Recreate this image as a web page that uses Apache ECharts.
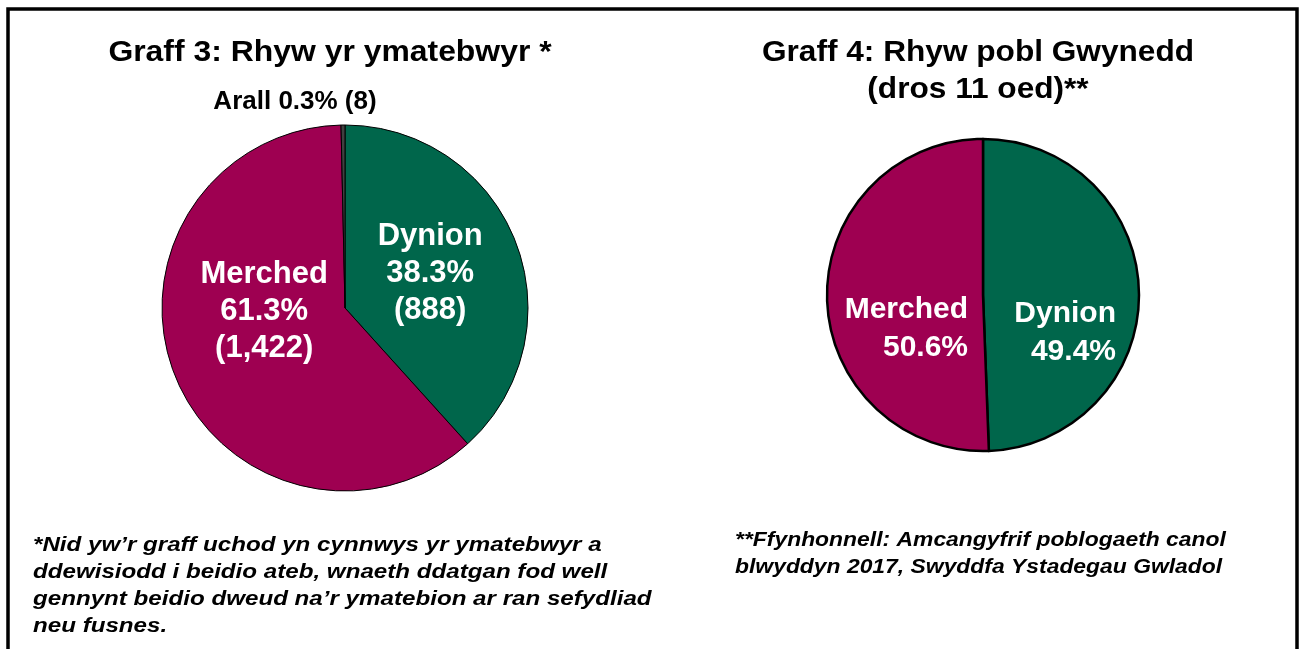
<!DOCTYPE html>
<html>
<head>
<meta charset="utf-8">
<script src="https://cdn.jsdelivr.net/npm/echarts@6/dist/echarts.min.js"></script>
<style>
html,body{margin:0;padding:0;background:#fff;}
#chart{width:1305px;height:649px;}
</style>
</head>
<body>
<div id="chart"></div>
<script>
// ---- Data ----
var respCategories = ['Dynion', 'Merched', 'Arall'];
var respCounts = [888, 1422, 8];
var respCountLabels = ['888', '1,422', '8'];
var respPercents = [38.3, 61.3, 0.3];

var popCategories = ['Dynion', 'Merched'];
var popPercents = [49.4, 50.6];

var title3 = 'Graff 3: Rhyw yr ymatebwyr *';
var title4 = 'Graff 4: Rhyw pobl Gwynedd\n(dros 11 oed)**';
var note3 = '*Nid yw\u2019r graff uchod yn cynnwys yr ymatebwyr a\nddewisiodd i beidio ateb, wnaeth ddatgan fod well\ngennynt beidio dweud na\u2019r ymatebion ar ran sefydliad\nneu fusnes.';
var note4 = '**Ffynhonnell: Amcangyfrif poblogaeth canol\nblwyddyn 2017, Swyddfa Ystadegau Gwladol';

// ---- Styling ----
var FONT = "'Liberation Sans', Arial, sans-serif";
var colorMap = { 'Dynion': '#00664B', 'Merched': '#9E0051', 'Arall': '#404040' };

var chart = echarts.init(document.getElementById('chart'), null, { renderer: 'canvas' });

var respData = respCategories.map(function (c, i) {
  var item = { name: c, value: respCounts[i], itemStyle: { color: colorMap[c] } };
  if (c === 'Arall') {
    item.label = { position: 'outside', color: '#000', fontSize: 26, lineHeight: 30 };
    item.labelLine = { show: false };
  }
  return item;
});
var popData = popCategories.map(function (c, i) {
  return { name: c, value: popPercents[i], itemStyle: { color: colorMap[c] } };
});

// label placement tweaks (relative to the library's default label anchor)
var respShift = { 'Dynion': { dx: -3, dy: -1 }, 'Merched': { dx: 7, dy: -31 } };
var popShift = { 'Dynion': { dx: 52, dy: 39, align: 'right' }, 'Merched': { dx: 66, dy: 32, align: 'right' } };

function textEl(txt, x, y, align, size, lh, italic, sx) {
  return {
    type: 'text', silent: true, x: x, y: y, scaleX: sx, scaleY: 1,
    style: {
      text: txt, align: align, verticalAlign: 'top',
      font: (italic ? 'italic ' : '') + 'bold ' + size + 'px ' + FONT,
      lineHeight: lh, fill: '#000'
    }
  };
}

var option = {
  backgroundColor: '#fff',
  animation: false,
  graphic: [
    { type: 'polyline', silent: true,
      shape: { points: [[8, 660], [8, 9], [1297, 9], [1297, 660]] },
      style: { stroke: '#000', lineWidth: 3.5, fill: null } },
    textEl(title3, 330, 38, 'center', 29, 30, false, 1.1),
    textEl(title4, 978, 34, 'center', 29, 37, false, 1.09),
    textEl(note3, 33, 532, 'left', 21, 27, true, 1.15),
    textEl(note4, 735, 527, 'left', 21, 27, true, 1.09)
  ],
  series: [
    {
      type: 'pie',
      center: [345, 308],
      radius: 183,
      startAngle: 90,
      clockwise: true,
      avoidLabelOverlap: false,
      itemStyle: { borderColor: '#000', borderWidth: 1 },
      label: {
        show: true, position: 'inside', color: '#fff',
        fontFamily: FONT, fontWeight: 'bold', fontSize: 31, lineHeight: 37,
        formatter: function (p) {
          var i = p.dataIndex;
          if (respCategories[i] === 'Arall') {
            return respCategories[i] + ' ' + respPercents[i].toFixed(1) + '% (' + respCountLabels[i] + ')';
          }
          return respCategories[i] + '\n' + respPercents[i].toFixed(1) + '%\n(' + respCountLabels[i] + ')';
        }
      },
      labelLine: { show: false },
      labelLayout: function (p) {
        var name = respCategories[p.dataIndex];
        if (name === 'Arall') {
          return { x: 295, y: 102, align: 'center', verticalAlign: 'middle' };
        }
        return respShift[name];
      },
      emphasis: { disabled: true },
      data: respData
    },
    {
      type: 'pie',
      center: [983, 295],
      radius: 156,
      startAngle: 90,
      clockwise: true,
      avoidLabelOverlap: false,
      itemStyle: { borderColor: '#000', borderWidth: 2.5 },
      label: {
        show: true, position: 'inside', color: '#fff',
        fontFamily: FONT, fontWeight: 'bold', fontSize: 30, lineHeight: 38,
        formatter: function (p) {
          var i = p.dataIndex;
          return popCategories[i] + '\n' + popPercents[i].toFixed(1) + '%';
        }
      },
      labelLine: { show: false },
      labelLayout: function (p) {
        return popShift[popCategories[p.dataIndex]];
      },
      emphasis: { disabled: true },
      data: popData
    }
  ]
};
chart.setOption(option);
</script>
</body>
</html>
